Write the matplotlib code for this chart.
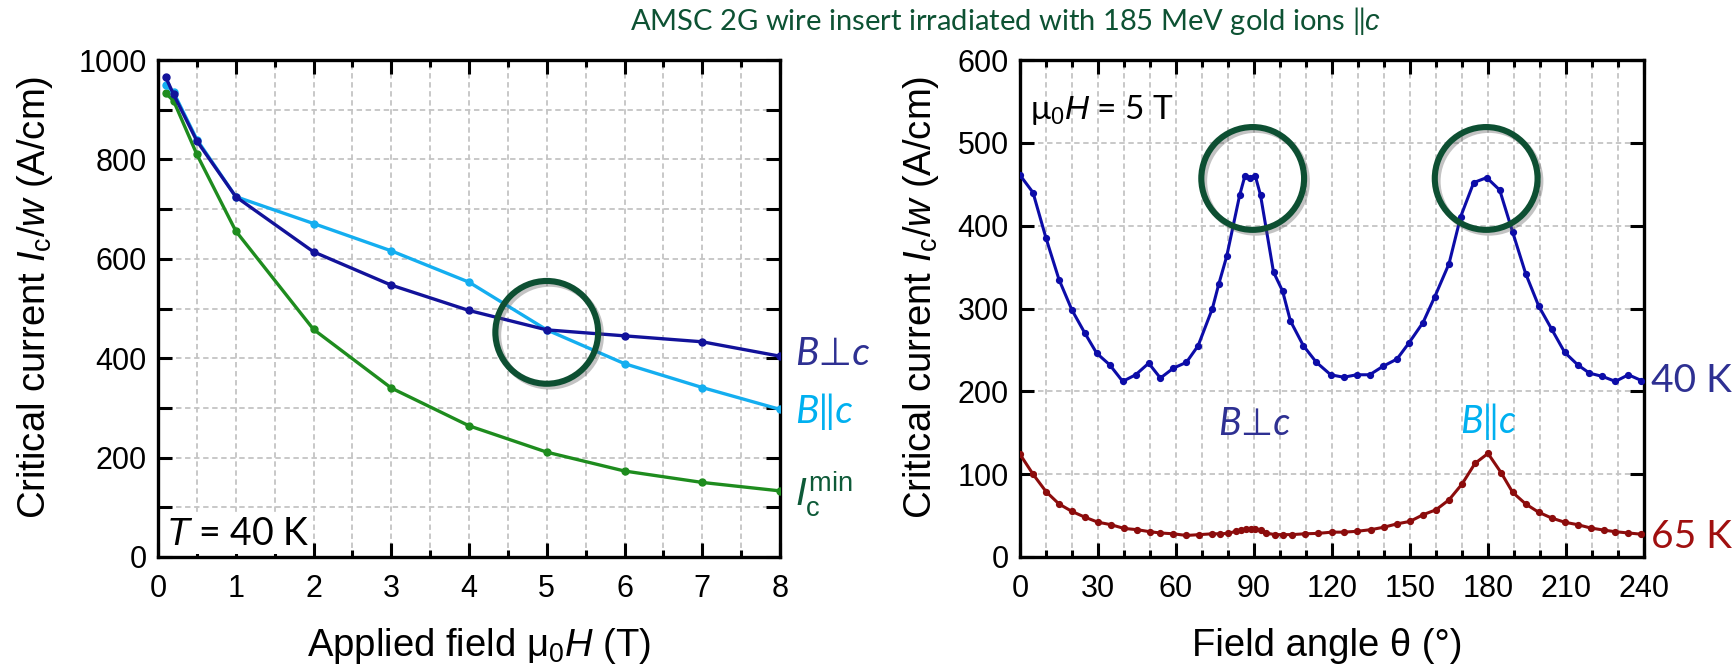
import matplotlib
matplotlib.use('Agg')
import matplotlib.pyplot as plt
import matplotlib.patheffects as pe
from matplotlib.ticker import MultipleLocator

plt.rcParams['font.family'] = ['Liberation Sans', 'DejaVu Sans']
plt.rcParams['mathtext.fontset'] = 'custom'
plt.rcParams['mathtext.rm'] = 'Liberation Sans'
plt.rcParams['mathtext.it'] = 'Liberation Sans:italic'
plt.rcParams['mathtext.bf'] = 'Liberation Sans:bold'

# ---------------- data: left panel (T = 40 K) ----------------
field_T = [0.1, 0.2, 0.5, 1, 2, 3, 4, 5, 6, 7, 8]
jc_perp = [965, 931, 837, 725, 614, 547, 496, 457, 445, 433, 404]
jc_par = [950, 935, 840, 725, 671, 616, 553, 457, 389, 341, 297]
jc_min = [933, 918, 810, 656, 458, 340, 264, 211, 173, 150, 133]

# ---------------- data: right panel (5 T) ----------------
angle_40K = [0, 5, 10, 15, 20, 25, 29.5, 34.5, 39.5, 44.5, 49.5, 54, 59, 64,
             68.5, 74, 76.5, 79.5, 84.5, 86.5, 88.5, 90.5, 92.5, 97.5, 101,
             104, 109, 114, 119.5, 124.5, 129.5, 134.5, 139.5, 145, 149.5,
             155, 159.5, 165, 169.5, 174.5, 179.5, 184.5, 189.5, 194.5,
             199.5, 204.5, 209.5, 214.5, 219, 224, 229, 234, 239]
jc_40K = [461, 440, 385, 335, 298, 270, 246, 232, 212, 220, 234, 216, 228, 235,
          255, 300, 330, 363, 437, 460, 458, 460, 437, 344, 321,
          285, 255, 235, 220, 217, 220, 220, 230, 239, 258,
          283, 314, 354, 411, 452, 458, 443, 392, 342,
          303, 275, 247, 232, 222, 218, 212, 220, 213]

angle_65K = [0, 5, 10, 15, 20, 25, 30, 35, 40, 45, 50, 54, 59, 64, 69, 74, 77,
             80, 83, 85, 87, 89, 90.5, 92.5, 94.5, 98, 101, 104.5, 109.5,
             114.5, 120, 124.5, 129.5, 135, 140, 145, 150, 155, 160, 165,
             170, 175, 180, 185, 189.5, 194.5, 199.5, 204.5, 209.5, 214.5,
             219.5, 224.5, 229, 234, 239]
jc_65K = [124, 100, 79, 64, 55, 48, 42, 39, 34.5, 33, 30.5, 29, 28, 26, 27, 28,
          28, 28.5, 31, 32, 34, 34, 34, 32, 29, 27, 27, 27, 28,
          28.5, 30, 30, 31, 33, 36, 40, 43, 51, 57, 69,
          88, 113, 125, 102, 78, 64, 54, 47, 42, 39,
          35, 32.5, 30.5, 29, 27.5]

# highlight circles (data coordinates)
circle_left = ([5.0], [452])
circle_right = ([89.5, 179.3], [457, 457])

# ---------------- styling ----------------
W, H = 1734, 670
fig = plt.figure(figsize=(W / 100, H / 100), dpi=100)

def fx(px):
    return px / W

def fy(py):
    return 1 - py / H

c_perp = '#12129a'
c_par = '#14aef0'
c_min = '#1e8c1e'
c_40 = '#0c0ca8'
c_65 = '#8c0c0c'
c_circ = '#0d4f32'
c_title = '#0d5233'
c_lab_perp = '#2e3092'
c_lab_par = '#00b0f0'
c_lab_min = '#0e5a38'
c_lab_65 = '#a01010'

ann_font = ['Lato', 'DejaVu Sans']

axL = fig.add_axes([fx(158), fy(557), fx(780) - fx(158), fy(60) - fy(557)])
axR = fig.add_axes([fx(1020), fy(557), fx(1644) - fx(1020), fy(60) - fy(557)])

for ax in (axL, axR):
    for s in ax.spines.values():
        s.set_linewidth(2.4)
    ax.tick_params(which='both', direction='in', top=True, right=True,
                   width=2.2, labelsize=22, pad=8)
    ax.tick_params(axis='x', which='both', pad=12)
    ax.tick_params(which='major', length=10)
    ax.tick_params(which='minor', length=5)
    ax.grid(which='both', color='#c4c4c4', linestyle=(0, (3, 2)),
            linewidth=1.3)
    ax.set_axisbelow(True)

# left
axL.set_xlim(0, 8)
axL.set_ylim(0, 1000)
axL.xaxis.set_major_locator(MultipleLocator(1))
axL.xaxis.set_minor_locator(MultipleLocator(0.5))
axL.yaxis.set_major_locator(MultipleLocator(200))
axL.yaxis.set_minor_locator(MultipleLocator(100))
axL.tick_params(axis='y', which='minor', length=10)

lw, ms = 2.4, 5
axL.plot(field_T, jc_min, '-o', color=c_min, lw=lw, ms=ms, zorder=3)
axL.plot(field_T, jc_par, '-o', color=c_par, lw=lw, ms=ms, zorder=4)
axL.plot(field_T, jc_perp, '-o', color=c_perp, lw=lw, ms=ms, zorder=5)

shadow = [pe.SimpleLineShadow(offset=(2, -2), shadow_color='#555555', alpha=0.35),
          pe.Normal()]
axL.plot(circle_left[0], circle_left[1], 'o', ms=74, mfc='none', mec=c_circ,
         mew=4.4, zorder=10, path_effects=shadow, clip_on=False)

axL.text(0.1, 47, '$T$ = 40 K', fontsize=27, family=ann_font, va='center',
         ha='left', zorder=6,
         bbox=dict(facecolor='white', edgecolor='none', pad=2))

# right
axR.set_xlim(0, 240)
axR.set_ylim(0, 600)
axR.xaxis.set_major_locator(MultipleLocator(30))
axR.xaxis.set_minor_locator(MultipleLocator(10))
axR.yaxis.set_major_locator(MultipleLocator(100))

axR.plot(angle_40K, jc_40K, '-o', color=c_40, lw=2.2, ms=4.2, zorder=4)
axR.plot(angle_65K, jc_65K, '-o', color=c_65, lw=2.2, ms=4.2, zorder=4)
axR.plot(circle_right[0], circle_right[1], 'o', ms=74, mfc='none', mec=c_circ,
         mew=4.4, zorder=10, path_effects=shadow, clip_on=False,
         linestyle='none')

axR.text(4, 540, 'μ$_0H$ = 5 T', fontsize=24, family=ann_font, va='center',
         ha='left', zorder=6)
axR.text(90, 161, 'B⊥c', fontsize=27, family=ann_font, style='italic',
         color=c_lab_perp, ha='center', va='center')
axR.text(180, 163, 'B‖c', fontsize=27, family=ann_font, style='italic',
         color=c_lab_par, ha='center', va='center')

# side labels
fig.text(fx(795), fy(354), 'B⊥c', fontsize=28, family=ann_font,
         style='italic', color=c_lab_perp, va='center', ha='left')
fig.text(fx(795), fy(412), 'B‖c', fontsize=28, family=ann_font,
         style='italic', color=c_lab_par, va='center', ha='left')
fig.text(fx(795), fy(494), r'$I_{\rm c}^{\rm min}$', fontsize=28,
         color=c_lab_min, va='center', ha='left')
fig.text(fx(1651), fy(381), '40 K', fontsize=28, family=ann_font,
         color=c_lab_perp, va='center', ha='left')
fig.text(fx(1651), fy(537), '65 K', fontsize=28, family=ann_font,
         color=c_lab_65, va='center', ha='left')

# axis labels
lab_fs = 27.5
fig.text(fx(35), fy(297), r'Critical current $I_{\rm c}/w$ (A/cm)',
         fontsize=lab_fs, rotation=90, ha='center', va='center')
fig.text(fx(921), fy(297), r'Critical current $I_{\rm c}/w$ (A/cm)',
         fontsize=lab_fs, rotation=90, ha='center', va='center')
fig.text(fx(479), fy(646), r'Applied field μ$_0H$ (T)', fontsize=lab_fs,
         ha='center', va='center')
fig.text(fx(1327), fy(646), 'Field angle θ (°)', fontsize=lab_fs,
         ha='center', va='center')

fig.text(fx(1006), fy(21),
         'AMSC 2G wire insert irradiated with 185 MeV gold ions ‖$c$',
         fontsize=21, family=ann_font, color=c_title, ha='center',
         va='center')

fig.savefig('out.png', dpi=100)
